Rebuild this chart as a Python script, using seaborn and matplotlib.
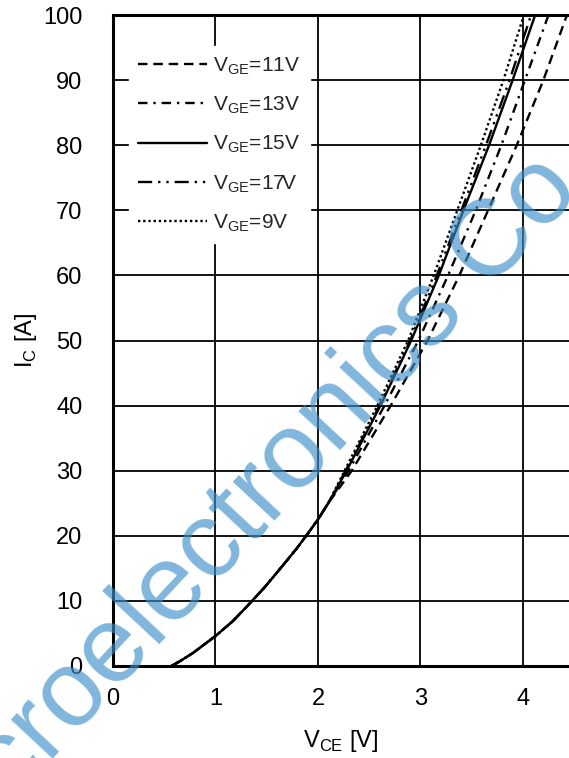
import numpy as np
import pandas as pd
import matplotlib
matplotlib.use("Agg")
import matplotlib.pyplot as plt
import seaborn as sns

# shared low-current part of the output characteristic (all VGE overlap here)
v_low = [0.57, 0.65, 0.78, 1.00, 1.17, 1.34, 1.48, 1.65, 1.79, 1.89, 2.00, 2.10]
i_low = [0.0, 0.7, 2.0, 4.6, 6.9, 9.7, 12.1, 15.3, 18.0, 20.1, 22.5, 25.0]

# upper part, per gate voltage
i_high = [30, 40, 50, 60, 70, 80, 90, 100]
v_11 = [2.33, 2.71, 3.07, 3.38, 3.66, 3.94, 4.20, 4.43]
v_13 = [2.30, 2.65, 2.98, 3.27, 3.54, 3.79, 4.02, 4.25]
v_15 = [2.28, 2.61, 2.91, 3.18, 3.42, 3.67, 3.90, 4.12]
v_17 = [2.27, 2.60, 2.90, 3.16, 3.40, 3.64, 3.87, 4.08]
v_9 = [2.26, 2.58, 2.88, 3.13, 3.36, 3.59, 3.81, 4.01]

labels = ["11V", "13V", "15V", "17V", "9V"]
series = [v_11, v_13, v_15, v_17, v_9]

x_ticks = [0, 1, 2, 3, 4]
y_ticks = [0, 10, 20, 30, 40, 50, 60, 70, 80, 90, 100]

names = [r"V$_{\mathregular{GE}}$=" + l for l in labels]
rows = []
for name, vh in zip(names, series):
    for v, i in zip(v_low + vh, i_low + i_high):
        rows.append({"VCE": v, "IC": i, "VGE": name})
df = pd.DataFrame(rows)

sns.set_theme(style="white")
plt.rcParams["font.family"] = ["Liberation Sans", "DejaVu Sans"]
plt.rcParams["mathtext.fontset"] = "custom"
plt.rcParams["mathtext.rm"] = "Liberation Sans"

fig = plt.figure(figsize=(5.69, 7.58), dpi=100)
ax = fig.add_axes([113 / 569, 1 - 666 / 758, 1 - 113 / 569, (666 - 15) / 758])

dashes = {names[0]: (4, 2.5), names[1]: (4, 2.5, 1, 2.5), names[2]: "",
          names[3]: (6, 2.5, 1, 2.5, 1, 2.5), names[4]: (1, 1.2)}
sns.lineplot(data=df, x="VCE", y="IC", hue="VGE", style="VGE",
             hue_order=names, style_order=names, dashes=dashes,
             palette=["black"] * 5, sort=False, estimator=None,
             linewidth=1.7, ax=ax, zorder=3)

ax.set_xlim(0, 4.45)
ax.set_ylim(0, 100)
ax.set_xticks(x_ticks)
ax.set_yticks(y_ticks)
ax.grid(True, color="black", linewidth=1.3)
ax.tick_params(length=0, labelsize=17, colors="black")
ax.tick_params(axis="x", pad=16)
ax.tick_params(axis="y", pad=22)
for s in ["left", "bottom", "top"]:
    ax.spines[s].set_visible(True)
    ax.spines[s].set_color("black")
    ax.spines[s].set_linewidth(2.2)
ax.spines["right"].set_visible(False)

ax.set_xlabel(r"V$_{\mathregular{CE}}$ [V]", fontsize=17, color="black", labelpad=13)
ax.set_ylabel(r"I$_{\mathregular{C}}$ [A]", fontsize=17, color="black", labelpad=3)

leg = ax.legend(loc="upper left", bbox_to_anchor=(0.012, 0.968), fontsize=15,
                handlelength=3.3, handletextpad=0.3, labelspacing=0.84,
                frameon=True, fancybox=False, framealpha=1,
                facecolor="white", edgecolor="white", borderpad=0.45)
leg.set_zorder(4)

# watermark
fig.text(297 / 569, 1 - 497 / 758, "croelectronics Co", fontsize=78,
         color="#3d8ec9", alpha=0.65, rotation=47, rotation_mode="anchor",
         ha="center", va="baseline", zorder=10)

fig.savefig("out.png", dpi=100)
